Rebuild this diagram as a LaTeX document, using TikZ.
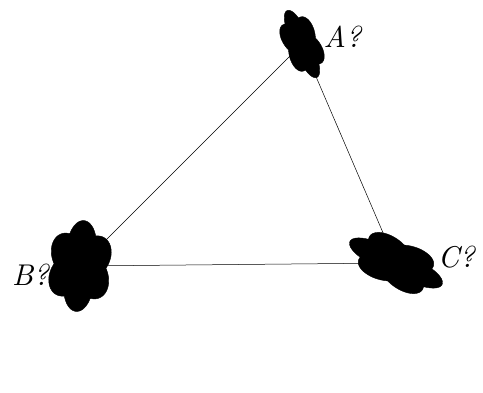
\documentclass[tikz,border=0pt]{standalone}
\usepackage{graphicx}
\begin{document}
\begin{tikzpicture}[x=1pt,y=-1pt,
  blobfill/.style={fill=black, draw=black},
  lbl/.style={inner sep=0pt}]
\useasboundingbox (0,0) rectangle (483,392);
\coordinate (A) at (302,44);
\coordinate (B) at (80,266);
\coordinate (C) at (396,263);
\draw[line width=0.5pt] (A) -- (B) -- (C) -- (A);
% blob A
\begin{scope}[shift={(A)}, rotate=24]
  \fill[blobfill] plot[smooth cycle, domain=0:357, samples=120, variable=\t]
    ({17.5*cos(\t)*(0.84+0.22*abs(sin(3*\t)))}, {34.5*sin(\t)*(0.84+0.22*abs(sin(3*\t)))});
\end{scope}
% blob B
\begin{scope}[shift={(B)}, rotate=-5]
  \fill[blobfill] plot[smooth cycle, domain=0:357, samples=120, variable=\t]
    ({31*cos(\t)*(0.84+0.22*abs(sin(3*\t)))}, {43*sin(\t)*(0.84+0.22*abs(sin(3*\t)))});
\end{scope}
% blob C
\begin{scope}[shift={(C)}, rotate=65]
  \fill[blobfill] plot[smooth cycle, domain=0:357, samples=120, variable=\t]
    ({23.5*cos(\t)*(0.84+0.22*abs(sin(3*\t)))}, {48*sin(\t)*(0.84+0.22*abs(sin(3*\t)))});
\end{scope}
\node[lbl] (la) at (343,37) {\scalebox{3}{\textit{A?}}};
\node[lbl] (lb) at (31,275) {\scalebox{3}{\textit{B?}}};
\node[lbl] (lc) at (457,257) {\scalebox{3}{\textit{C?}}};
\end{tikzpicture}
\end{document}
